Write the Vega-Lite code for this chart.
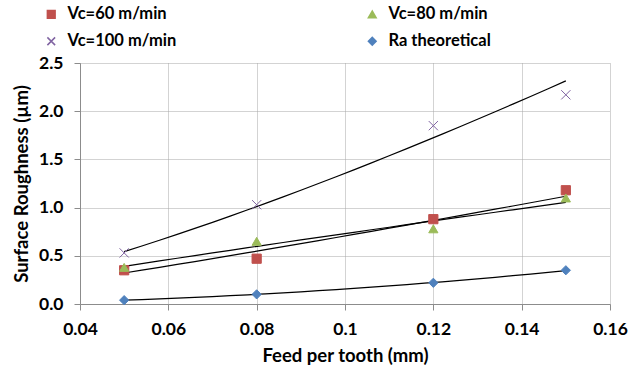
{
  "$schema": "https://vega.github.io/schema/vega-lite/v6.json",
  "width": 530,
  "height": 241,
  "autosize": {"type": "none"},
  "padding": {"left": 80, "top": 63, "right": 19, "bottom": 68},
  "background": "white",
  "config": {
    "font": "Lato",
    "view": {"stroke": null},
    "axis": {
      "labelFont": "Lato",
      "labelFontWeight": "bold",
      "labelFontSize": 17.5,
      "labelColor": "black",
      "titleFont": "Lato",
      "titleFontWeight": "bold",
      "titleFontSize": 18.5,
      "titleColor": "black",
      "domainColor": "#8c8c8c",
      "tickColor": "#8c8c8c",
      "tickSize": 6,
      "gridColor": "#a6a6a6",
      "gridDash": [1, 1],
      "gridWidth": 1
    },
    "legend": {
      "labelFont": "Lato",
      "labelFontWeight": "bold",
      "labelFontSize": 16.5,
      "labelColor": "black"
    }
  },
  "data": {
    "values": [
      {"series": "Vc=60 m/min", "x": 0.05, "y": 0.35},
      {"series": "Vc=60 m/min", "x": 0.08, "y": 0.47},
      {"series": "Vc=60 m/min", "x": 0.12, "y": 0.88},
      {"series": "Vc=60 m/min", "x": 0.15, "y": 1.18},
      {"series": "Vc=80 m/min", "x": 0.05, "y": 0.38},
      {"series": "Vc=80 m/min", "x": 0.08, "y": 0.65},
      {"series": "Vc=80 m/min", "x": 0.12, "y": 0.78},
      {"series": "Vc=80 m/min", "x": 0.15, "y": 1.10},
      {"series": "Vc=100 m/min", "x": 0.05, "y": 0.53},
      {"series": "Vc=100 m/min", "x": 0.08, "y": 1.03},
      {"series": "Vc=100 m/min", "x": 0.12, "y": 1.85},
      {"series": "Vc=100 m/min", "x": 0.15, "y": 2.17},
      {"series": "Ra theoretical", "x": 0.05, "y": 0.04},
      {"series": "Ra theoretical", "x": 0.08, "y": 0.10},
      {"series": "Ra theoretical", "x": 0.12, "y": 0.22},
      {"series": "Ra theoretical", "x": 0.15, "y": 0.35}
    ]
  },
  "encoding": {
    "x": {
      "field": "x",
      "type": "quantitative",
      "scale": {"domain": [0.04, 0.16], "nice": false, "zero": false},
      "axis": {
        "title": "Feed per tooth (mm)",
        "values": [0.04, 0.06, 0.08, 0.1, 0.12, 0.14, 0.16],
        "format": "~g",
        "labelPadding": 10,
        "titlePadding": 9,
        "labelFlush": false
      }
    },
    "y": {
      "field": "y",
      "type": "quantitative",
      "scale": {"domain": [0, 2.5], "nice": false},
      "axis": {
        "title": "Surface Roughness (µm)",
        "values": [0, 0.5, 1, 1.5, 2, 2.5],
        "format": ".1f",
        "labelPadding": 11,
        "titlePadding": 7,
        "labelFlush": false
      }
    }
  },
  "layer": [
    {
      "transform": [
        {"regression": "y", "on": "x", "groupby": ["series"], "method": "pow"}
      ],
      "mark": {"type": "line", "color": "black", "strokeWidth": 1.2},
      "encoding": {
        "detail": {"field": "series", "type": "nominal"}
      }
    },
    {
      "mark": {"type": "point", "filled": true, "opacity": 1, "size": 85, "strokeWidth": 1},
      "encoding": {
        "shape": {
          "field": "series",
          "type": "nominal",
          "scale": {
            "domain": ["Vc=60 m/min", "Vc=100 m/min", "Vc=80 m/min", "Ra theoretical"],
            "range": ["square", "M-1,-1L1,1M-1,1L1,-1", "triangle-up", "diamond"]
          },
          "legend": {
            "title": null,
            "orient": "none",
            "legendX": -37,
            "legendY": -57,
            "columns": 2,
            "columnPadding": 187,
            "rowPadding": 10,
            "symbolSize": 60,
            "labelOffset": 8
          }
        },
        "fill": {
          "field": "series",
          "type": "nominal",
          "scale": {
            "domain": ["Vc=60 m/min", "Vc=100 m/min", "Vc=80 m/min", "Ra theoretical"],
            "range": ["#C0504D", "#8064A2", "#9BBB59", "#4F81BD"]
          },
          "legend": {
            "title": null,
            "orient": "none",
            "legendX": -37,
            "legendY": -57,
            "columns": 2,
            "columnPadding": 187,
            "rowPadding": 10,
            "symbolSize": 60,
            "labelOffset": 8
          }
        },
        "stroke": {
          "field": "series",
          "type": "nominal",
          "scale": {
            "domain": ["Vc=60 m/min", "Vc=100 m/min", "Vc=80 m/min", "Ra theoretical"],
            "range": ["#C0504D", "#8064A2", "#9BBB59", "#4F81BD"]
          },
          "legend": {
            "title": null,
            "orient": "none",
            "legendX": -37,
            "legendY": -57,
            "columns": 2,
            "columnPadding": 187,
            "rowPadding": 10,
            "symbolSize": 60,
            "labelOffset": 8
          }
        }
      }
    }
  ]
}
